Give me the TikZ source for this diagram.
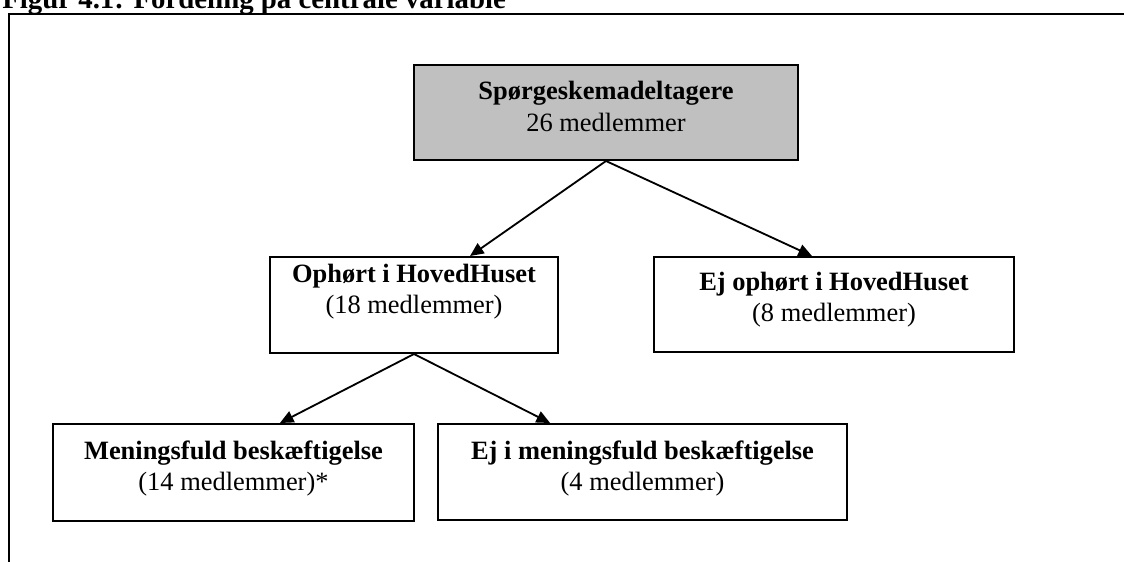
\documentclass[tikz,border=0pt]{standalone}
\usepackage{fontspec}
\setmainfont{Liberation Serif}
\definecolor{boxgray}{RGB}{192,192,192}
\usetikzlibrary{arrows.meta,positioning,calc}

\begin{document}
\begin{tikzpicture}[x=0.025cm, y=-0.025cm,
  box/.style={draw=black, line width=1.4pt, inner sep=0pt},
  boxtxt/.style={font=\fontsize{18.8}{22}\selectfont, align=center, anchor=north, inner sep=0pt},
  flow/.style={line width=1.3pt, -{Triangle[length=3.4mm, width=3mm]}}]

\useasboundingbox (0,0) rectangle (1124,561);

% --- Title and frame ---
\node[font=\fontsize{20.5}{24}\selectfont\bfseries, anchor=base west, inner sep=0pt]
      (title) at (2,8) {Figur 4.1: Fordeling på centrale variable};
\draw[line width=1.8pt] (9,580) -- (9,14) -- (1140,14);

% --- Level 1: all respondents ---
\node[box, fill=boxgray, minimum width=9.6cm, minimum height=2.375cm] (top) at (606,112.5) {};
\node[boxtxt] (toptxt) at ([yshift=-0.425cm]top.north)
      {\textbf{Spørgeskemadeltagere}\\[1pt] 26 medlemmer};

% --- Level 2: stopped / not stopped ---
\node[box, minimum width=7.2cm, minimum height=2.4cm] (ophort) at (414,305) {};
\node[boxtxt] (ophorttxt) at ([yshift=-0.2cm]ophort.north)
      {\textbf{Ophørt i HovedHuset}\\ (18 medlemmer)};

\node[box, minimum width=9cm, minimum height=2.375cm] (ejoph) at (834,304.5) {};
\node[boxtxt] (ejophtxt) at ([yshift=-0.4cm]ejoph.north)
      {\textbf{Ej ophørt i HovedHuset}\\ (8 medlemmer)};

% --- Level 3: occupation ---
\node[box, minimum width=9.025cm, minimum height=2.425cm] (mening) at (233.5,472.5) {};
\node[boxtxt] (meningtxt) at ([yshift=-0.45cm]mening.north)
      {\textbf{Meningsfuld beskæftigelse}\\ (14 medlemmer)*};

\node[box, minimum width=10.225cm, minimum height=2.4cm] (ejmen) at (642.5,472) {};
\node[boxtxt] (ejmentxt) at ([yshift=-0.45cm]ejmen.north)
      {\textbf{Ej i meningsfuld beskæftigelse}\\ (4 medlemmer)};

% --- Arrows ---
\draw[flow] (top.south) -- ([xshift=1.4cm]ophort.north);
\draw[flow] (top.south) -- ([xshift=-0.55cm]ejoph.north);
\draw[flow] (ophort.south) -- ([xshift=1.16cm]mening.north);
\draw[flow] (ophort.south) -- ([xshift=-2.31cm]ejmen.north);

\end{tikzpicture}
\end{document}
